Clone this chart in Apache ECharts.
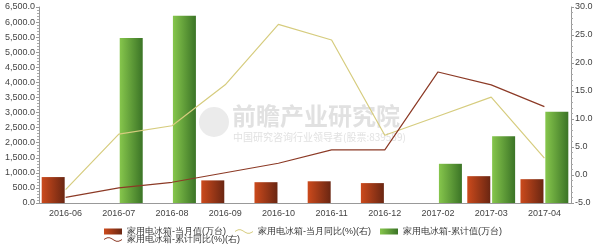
<!DOCTYPE html>
<html><head><meta charset="utf-8">
<script src="https://cdn.jsdelivr.net/npm/echarts@6/dist/echarts.min.js"></script>
<style>html,body{margin:0;padding:0;background:#fff}#c{width:600px;height:247px}</style>
</head><body><div id="c"></div>
<script>
var categories = ['2016-06','2016-07','2016-08','2016-09','2016-10','2016-11','2016-12','2017-02','2017-03','2017-04'];
var monthValue = [860, null, null, 750, 690, 720, 660, null, 890, 790];
var cumValue = [null, 5470, 6210, null, null, null, null, 1300, 2210, 3030];
var monthYoY = [-2.6, 7.3, 8.8, 16.1, 26.9, 24.1, 7.1, 10.5, 13.9, 3.0];
var cumYoY = [-4.0, -2.3, -1.3, 0.4, 2.1, 4.5, 4.5, 18.4, 16.1, 12.2];
var names = ['家用电冰箱-当月值(万台)','家用电冰箱-当月同比(%)(右)','家用电冰箱-累计值(万台)','家用电冰箱-累计同比(%)(右)'];

var chart = echarts.init(document.getElementById('c'));
var font = 'Arial, "Liberation Sans", sans-serif';
function fmtThousands(v){
  var s = v.toFixed(1).split('.');
  return s[0].replace(/\B(?=(\d{3})+(?!\d))/g, ',') + '.' + s[1];
}
var redGrad = new echarts.graphic.LinearGradient(0,0,1,0,[{offset:0,color:'#cc4a1c'},{offset:1,color:'#6a2612'}]);
var greenGrad = new echarts.graphic.LinearGradient(0,0,1,0,[{offset:0,color:'#86c64c'},{offset:1,color:'#3b7426'}]);
var wave = 'path://M0,4 C5,0 10,0 15,4 C20,8 25,8 30,4 L30,5.5 C25,9.5 20,9.5 15,5.5 C10,1.5 5,1.5 0,5.5 Z';
var axisCommon = {
  axisLine:{show:true,lineStyle:{color:'#999',width:1}},
  axisTick:{show:true,length:3,lineStyle:{color:'#999'}},
  minorTick:{show:true,splitNumber:5,length:2,lineStyle:{color:'#aaa'}},
  splitLine:{show:false},
  axisLabel:{fontSize:9,color:'#444',fontFamily:font,margin:4}
};
var legendText = {fontSize:9,color:'#333',fontFamily:font};
chart.setOption({
  animation:false,
  graphic:[
    {type:'circle',shape:{cx:214,cy:122,r:15},style:{fill:'rgba(205,205,205,0.4)'},z:0},
    {type:'text',left:232,top:104,style:{text:'前瞻产业研究院',font:'bold 24px "Noto Sans CJK SC"',fill:'rgba(195,195,195,0.5)'},z:0},
    {type:'text',left:233,top:132,style:{text:'中国研究咨询行业领导者(股票:839559)',font:'10px "Noto Sans CJK SC"',fill:'rgba(195,195,195,0.5)'},z:0}
  ],
  grid:{left:39,right:29,top:7,bottom:44,containLabel:false},
  legend:[{
    left:99,top:222,itemWidth:18,itemHeight:6,itemGap:9,
    textStyle:legendText,
    data:[{name:names[0],icon:'rect'},{name:names[1],icon:wave},{name:names[2],icon:'rect'}]
  },{
    left:99,top:230,itemWidth:18,itemHeight:6,
    textStyle:legendText,
    data:[{name:names[3],icon:wave}]
  }],
  xAxis:{type:'category',data:categories,boundaryGap:true,
    axisLine:{lineStyle:{color:'#999'}},
    axisTick:{alignWithLabel:true,length:4,lineStyle:{color:'#999'}},
    axisLabel:{fontSize:9,color:'#444',fontFamily:font,margin:6}
  },
  yAxis:[
    Object.assign({type:'value',min:0,max:6500,interval:500,position:'left'},axisCommon,
      {axisLabel:Object.assign({},axisCommon.axisLabel,{formatter:function(v){return fmtThousands(v);}})}),
    Object.assign({type:'value',min:-5,max:30,interval:5,position:'right'},axisCommon,
      {axisLabel:Object.assign({},axisCommon.axisLabel,{formatter:function(v){return v.toFixed(1);}})})
  ],
  series:[
    {name:names[0],type:'bar',data:monthValue,barWidth:23,barGap:'8%',itemStyle:{color:redGrad}},
    {name:names[2],type:'bar',data:cumValue,barWidth:23,barGap:'8%',itemStyle:{color:greenGrad}},
    {name:names[1],type:'line',yAxisIndex:1,data:monthYoY,symbol:'none',lineStyle:{color:'#d6cc7e',width:1.2},itemStyle:{color:'#d6cc7e'}},
    {name:names[3],type:'line',yAxisIndex:1,data:cumYoY,symbol:'none',lineStyle:{color:'#8c3a26',width:1.2},itemStyle:{color:'#8c3a26'}}
  ]
});
</script></body></html>
